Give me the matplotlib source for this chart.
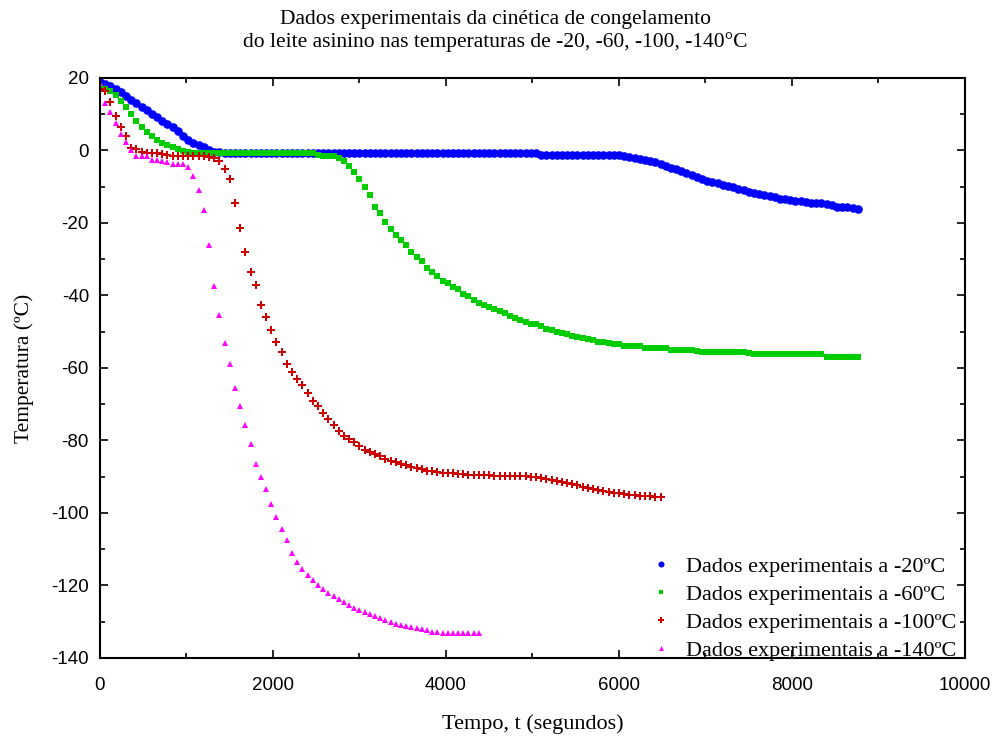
import numpy as np
import matplotlib
matplotlib.use("Agg")
import matplotlib.pyplot as plt
from matplotlib.ticker import MultipleLocator

plt.rcParams["axes.unicode_minus"] = False

# ---- data (sampled every 60 s) ----
step = 60

temp_m20 = [18.8, 18.3, 17.7, 17.0, 16.2, 15.0, 13.8, 13.0, 12.1, 11.2,
            10.2, 9.2, 8.2, 7.4, 6.5, 5.3, 4.0, 2.8, 2.0, 1.5,
            0.9, 0.2, -0.3, -0.5,
            -0.6, -0.6, -0.6, -0.6, -0.6, -0.6, -0.6, -0.6, -0.6, -0.6,
            -0.6, -0.6, -0.6, -0.6, -0.6, -0.6, -0.6, -0.6, -0.6, -0.6,
            -0.6, -0.6, -0.6, -0.6, -0.6, -0.6, -0.6, -0.6, -0.6, -0.6,
            -0.6, -0.6, -0.6, -0.6, -0.6, -0.6, -0.6, -0.6, -0.6, -0.6,
            -0.6, -0.6, -0.6, -0.6, -0.6, -0.6, -0.6, -0.6, -0.6, -0.6,
            -0.6, -0.6, -0.6, -0.6, -0.6, -0.6, -0.6, -0.6, -0.6, -0.6,
            -0.6,
            -1.3, -1.3, -1.3, -1.3, -1.3, -1.3, -1.3, -1.3, -1.3, -1.3,
            -1.3, -1.3, -1.3, -1.3, -1.3,
            -1.3, -1.5, -1.9, -2.1, -2.3, -2.5, -2.9, -3.3, -3.8, -4.2,
            -4.7, -5.2, -5.7, -6.3, -6.8, -7.4, -7.8, -8.3, -8.7, -9.1,
            -9.5, -9.8, -10.2, -10.6, -11.0, -11.4, -11.7, -12.0, -12.3, -12.6,
            -12.9, -13.3, -13.5, -13.6, -13.8, -14.0, -14.2, -14.4, -14.5, -14.6,
            -14.8, -15.1, -15.5, -15.5, -15.6, -15.8, -16.2]

temp_m60 = [17.5, 17.0, 16.3, 15.2, 13.6, 12.0, 10.0, 8.2, 6.5, 5.2,
            4.0, 2.8, 2.2, 1.5, 0.9, 0.3, -0.1, -0.5, -0.8,
            -0.8, -0.8, -0.8, -0.8, -0.8, -0.8, -0.8, -0.8, -0.8, -0.8,
            -0.8, -0.8, -0.8, -0.8, -0.8, -0.8, -0.8, -0.8, -0.8, -0.8,
            -0.8, -0.8, -0.8,
            -1.3, -1.5, -1.5, -1.5, -2.2, -2.8, -4.3, -5.8, -7.9, -10.2,
            -12.4, -15.6, -17.2, -19.8, -21.7, -23.2, -24.6, -26.1, -28.0, -29.5,
            -30.5, -32.4, -33.4, -34.6, -36.1, -36.5, -37.7, -38.3, -39.5, -40.2,
            -41.3, -42.1, -42.5, -43.2, -43.8, -44.3, -44.9, -45.6, -46.2, -46.8,
            -47.4, -48.0, -48.0, -48.5, -49.2, -49.6, -50.0, -50.3, -50.7, -51.1,
            -51.4, -51.6, -52.0, -52.3, -52.7, -52.7, -53.0, -53.4, -53.5, -53.9,
            -53.9, -53.9, -53.9, -54.4, -54.6, -54.6, -54.6, -54.6, -55.0, -55.1,
            -55.1, -55.1, -55.1, -55.4, -55.7,
            -55.7, -55.7, -55.7, -55.7, -55.7, -55.7, -55.7, -55.7,
            -56.0,
            -56.2, -56.2, -56.2, -56.2, -56.2, -56.2, -56.2, -56.2, -56.2, -56.2,
            -56.2, -56.2, -56.2, -56.2,
            -56.9, -56.9, -56.9, -56.9, -56.9, -56.9, -56.9]

temp_m100 = [17.0, 16.3, 13.5, 9.5, 6.5, 4.0, 0.8, 0.3, -0.4, -0.8,
             -0.8, -0.8, -0.9, -1.2, -1.4, -1.4, -1.4, -1.4, -1.4, -1.4,
             -1.5, -1.8, -2.2, -3.0, -5.0, -8.0, -14.5, -21.5, -28.0, -33.5,
             -37.0, -42.5, -46.0, -49.5, -52.8, -55.5, -59.0, -61.2, -63.0, -64.8,
             -66.8, -69.0, -70.6, -72.3, -74.2, -75.6, -77.4, -78.7, -79.5, -80.5,
             -81.6, -82.5, -83.2, -83.8, -84.4, -85.0, -85.6, -86.0, -86.5, -86.9,
             -87.3, -87.6, -88.0, -88.3, -88.5, -88.7, -88.9, -89.0, -89.1, -89.2,
             -89.3, -89.4, -89.4, -89.5, -89.6, -89.6, -89.7, -89.7, -89.8, -89.8,
             -89.8, -89.9, -89.9, -90.0, -90.1, -90.3, -90.6, -90.9, -91.2, -91.5,
             -91.8, -92.1, -92.4, -92.7, -93.0, -93.3, -93.6, -93.9, -94.2, -94.4,
             -94.6, -94.8, -95.0, -95.1, -95.2, -95.3, -95.4, -95.5, -95.6]

temp_m140 = [18.5, 13.0, 10.5, 7.5, 4.5, 2.3, 0.1, -1.5, -1.5, -1.6,
             -2.6, -2.6, -2.8, -3.3, -3.6, -3.8, -3.8, -4.5, -7.0, -11.0,
             -16.5, -26.0, -37.5, -45.5, -53.0, -59.0, -65.5, -70.5, -75.8, -81.0,
             -86.5, -90.0, -93.5, -97.5, -101.0, -104.3, -107.5, -111.0, -113.5, -115.5,
             -117.2, -118.5, -120.0, -121.0, -122.0, -122.9, -123.8, -124.6, -125.5, -126.2,
             -126.8, -127.3, -127.9, -128.4, -128.9, -129.5, -130.0, -130.5, -130.9, -131.2,
             -131.5, -131.8, -132.1, -132.4, -132.7, -132.9, -133.0, -133.1, -133.2, -133.2,
             -133.2, -133.2, -133.2, -133.2]

labels = ["Dados experimentais a -20ºC", "Dados experimentais a -60ºC",
          "Dados experimentais a -100ºC", "Dados experimentais a -140ºC"]
title = "Dados experimentais da cinética de congelamento\ndo leite asinino nas temperaturas de -20, -60, -100, -140°C"
xlabel = "Tempo, t (segundos)"
ylabel = "Temperatura (ºC)"

series = [temp_m20, temp_m60, temp_m100, temp_m140]
colors = ["#0000FF", "#00CC00", "#CC0000", "#FF00FF"]
markers = ["o", "s", "P", "^"]
sizes = [6.2, 4.6, 5.2, 5.0]

fig = plt.figure(figsize=(9.97, 7.37), dpi=100)
ax = fig.add_axes([0.1003, 0.1072, 0.8676, 0.787])

for vals, c, m, s, lab in zip(series, colors, markers, sizes, labels):
    t = np.arange(len(vals)) * step
    ax.plot(t, vals, linestyle="none", marker=m, color=c, markersize=s,
            markeredgewidth=0, label=lab)

ax.set_xlim(0, 10000)
ax.set_ylim(-140, 20)
ax.xaxis.set_major_locator(MultipleLocator(2000))
ax.xaxis.set_minor_locator(MultipleLocator(1000))
ax.yaxis.set_major_locator(MultipleLocator(20))
ax.yaxis.set_minor_locator(MultipleLocator(10))
ax.tick_params(which="both", direction="in", top=True, right=True, width=1.2)
ax.tick_params(which="major", length=6)
ax.tick_params(which="minor", length=3.5)
ax.tick_params(axis="both", labelsize=13.5)
ax.tick_params(axis="x", pad=14)
ax.tick_params(axis="y", pad=8)
for lbl in ax.get_xticklabels() + ax.get_yticklabels():
    lbl.set_fontfamily("Liberation Sans")
for sp in ax.spines.values():
    sp.set_linewidth(1.5)

fig.text(495 / 997, 1 - 31 / 737, title, fontsize=15.5, family="Liberation Serif",
         ha="center", va="center", linespacing=1.25)
ax.set_xlabel(xlabel, fontsize=16, family="Liberation Serif", labelpad=14)
ax.set_ylabel(ylabel, fontsize=15.5, family="Liberation Serif", labelpad=12)

leg = ax.legend(loc="lower right", frameon=False, prop={"family": "Liberation Serif", "size": 16},
                markerscale=0.7, handletextpad=0.5, labelspacing=0.33,
                borderaxespad=0.0, bbox_to_anchor=(1.0, -0.02), handlelength=1.2)

fig.savefig("out.png", dpi=100)
